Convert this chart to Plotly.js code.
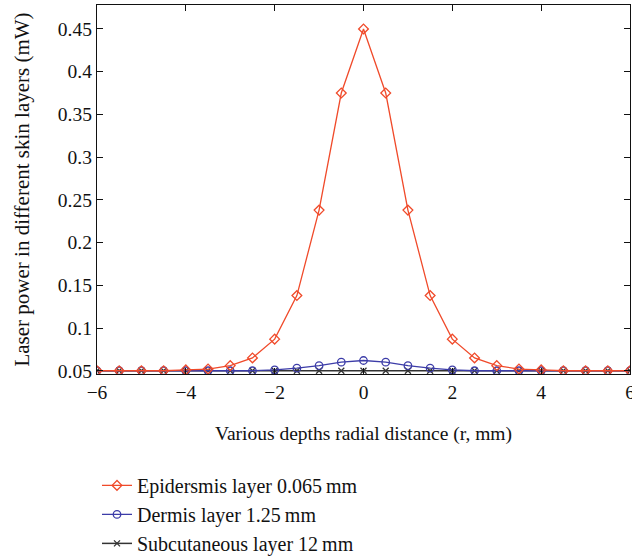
<!DOCTYPE html>
<html>
<head>
<meta charset="utf-8">
<script src="https://cdn.plot.ly/plotly-3.0.1.min.js"></script>
<style>html,body{margin:0;padding:0;background:#fff;}#chart{width:632px;height:558px;}</style>
</head>
<body>
<div id="chart"></div>
<script>
const radialDistance = [-6,-5.5,-5,-4.5,-4,-3.5,-3,-2.5,-2,-1.5,-1,-0.5,0,0.5,1,1.5,2,2.5,3,3.5,4,4.5,5,5.5,6];
const epidermis = [0.05,0.05,0.05,0.05,0.051,0.052,0.056,0.065,0.087,0.138,0.238,0.375,0.45,0.375,0.238,0.138,0.087,0.065,0.056,0.052,0.051,0.05,0.05,0.05,0.05];
const dermis = [0.05,0.05,0.05,0.05,0.05,0.05,0.05,0.05,0.051,0.053,0.056,0.06,0.062,0.06,0.056,0.053,0.051,0.05,0.05,0.05,0.05,0.05,0.05,0.05,0.05];
const subcutaneous = [0.05,0.05,0.05,0.05,0.05,0.05,0.05,0.05,0.05,0.05,0.05,0.05,0.05,0.05,0.05,0.05,0.05,0.05,0.05,0.05,0.05,0.05,0.05,0.05,0.05];
const seriesNames = ["Epidersmis layer 0.065\u2009mm","Dermis layer 1.25\u2009mm","Subcutaneous layer 12\u2009mm"];
const xTickVals = [-6,-4,-2,0,2,4,6];
const xTickText = ["\u22126","\u22124","\u22122","0","2","4","6"];
const yTickVals = [0.05,0.1,0.15,0.2,0.25,0.3,0.35,0.4,0.45];
const yTickText = ["0.05","0.1","0.15","0.2","0.25","0.3","0.35","0.4","0.45"];

const fam = "Liberation Serif, DejaVu Serif, serif";
const tickFont = {family: fam, size: 19.5, color: "#111"};

const traces = [
  {x: radialDistance, y: subcutaneous, name: seriesNames[2], mode: "lines+markers",
   line: {color: "#333333", width: 1.5}, marker: {symbol: "x-thin-open", size: 6, color: "#333333", line: {width: 1.3, color: "#333333"}}},
  {x: radialDistance, y: dermis, name: seriesNames[1], mode: "lines+markers",
   line: {color: "#3c3ca8", width: 1.3}, marker: {symbol: "circle-open", size: 7.5, color: "#3c3ca8", line: {width: 1.3}}},
  {x: radialDistance, y: epidermis, name: seriesNames[0], mode: "lines+markers",
   line: {color: "#f04a2a", width: 1.3}, marker: {symbol: "diamond-open", size: 7.5, color: "#f04a2a", line: {width: 1.3}}}
];

const layout = {
  width: 632, height: 558,
  margin: {l: 97, r: 2, t: 5, b: 184, autoexpand: false},
  paper_bgcolor: "#fff", plot_bgcolor: "#fff",
  font: tickFont,
  showlegend: true,
  legend: {x: 0.0, y: -0.249, xanchor: "left", yanchor: "top", traceorder: "reversed",
    font: {family: fam, size: 20, color: "#111"}, bgcolor: "rgba(0,0,0,0)", tracegroupgap: 0},
  xaxis: {range: [-6, 6], tickvals: xTickVals, ticktext: xTickText, ticks: "inside", ticklen: 6,
    tickcolor: "#111", showline: true, linecolor: "#111", linewidth: 1.2, mirror: "ticks",
    showgrid: false, zeroline: false, ticklabeloverflow: "allow", tickfont: tickFont,
    title: {text: "Various depths radial distance (r, mm)", font: {family: fam, size: 19.5, color: "#111"}, standoff: 24}},
  yaxis: {range: [0.0462, 0.478], tickvals: yTickVals, ticktext: yTickText, ticks: "inside", ticklen: 6,
    tickcolor: "#111", showline: true, linecolor: "#111", linewidth: 1.2, mirror: "ticks",
    showgrid: false, zeroline: false, tickfont: tickFont,
    title: {text: "Laser power in different skin layers (mW)", font: {family: fam, size: 21, color: "#111"}, standoff: 22}}
};

Plotly.newPlot("chart", traces, layout, {displayModeBar: false, staticPlot: true});
</script>
</body>
</html>
